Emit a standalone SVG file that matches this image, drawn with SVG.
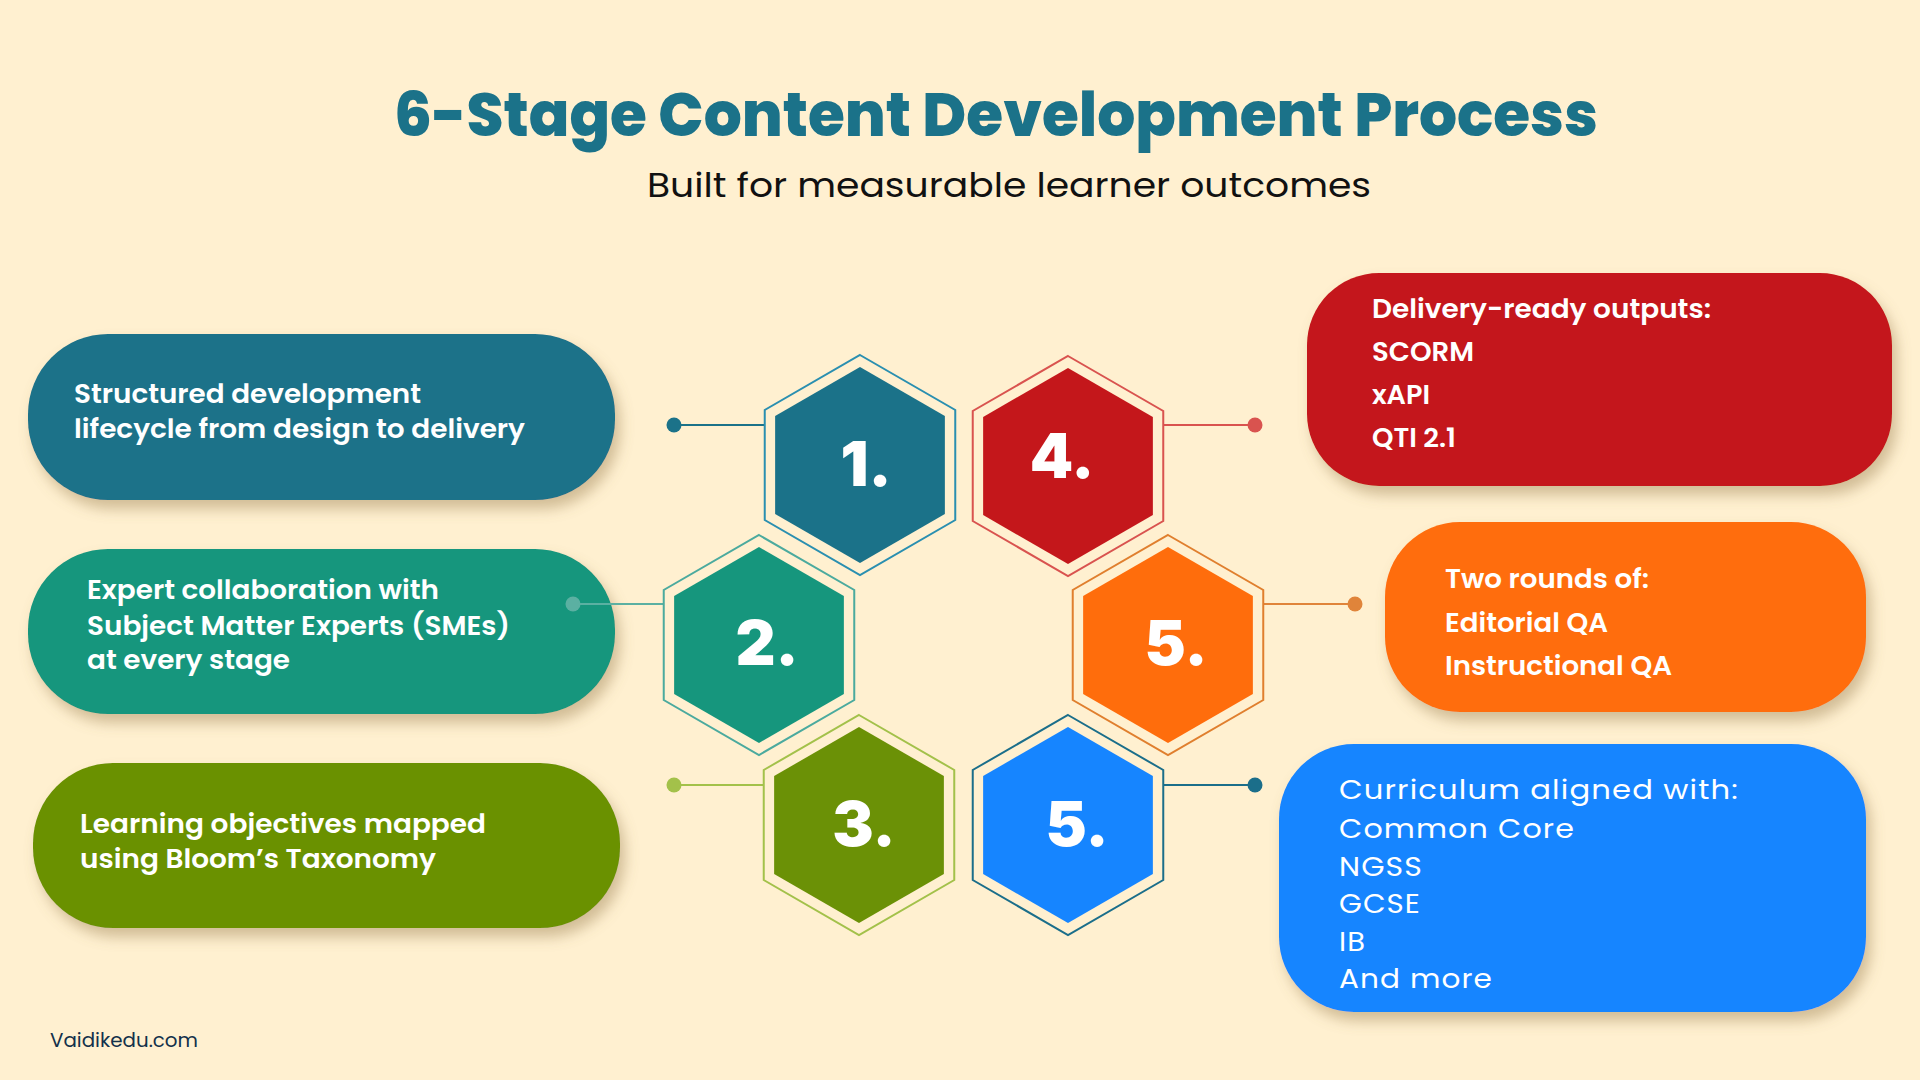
<svg xmlns="http://www.w3.org/2000/svg" xmlns:xlink="http://www.w3.org/1999/xlink" width="1920" height="1080" viewBox="0 0 1920 1080">
<defs>
<filter id="sh" x="-10%" y="-20%" width="125%" height="150%">
<feDropShadow dx="5" dy="9" stdDeviation="7" flood-color="#9a7e4e" flood-opacity="0.45"/>
</filter>
<polygon id="hexOut" points="0,-110 95.26,-55 95.26,55 0,110 -95.26,55 -95.26,-55"/>
<polygon id="hexIn" points="0,-98 84.87,-49 84.87,49 0,98 -84.87,49 -84.87,-49"/>
<style>
.title{font-family:Poppins,Inter,"Liberation Sans",sans-serif;font-weight:800;font-size:62px;fill:#1B7289}
.sub{font-family:Poppins,Inter,"Liberation Sans",sans-serif;font-weight:400;font-size:34px;fill:#111111}
.bt{font-family:Poppins,Inter,"Liberation Sans",sans-serif;font-weight:600;font-size:26px;fill:#ffffff}
.bt2{font-family:Poppins,Inter,"Liberation Sans",sans-serif;font-weight:600;font-size:27px;fill:#ffffff}
.bt3{font-family:Poppins,Inter,"Liberation Sans",sans-serif;font-weight:400;font-size:27px;fill:#ffffff;letter-spacing:1px}
.num{font-family:Inter,Roboto,"Liberation Sans",sans-serif;font-weight:900;font-size:62px;fill:#ffffff;text-anchor:middle}
.ho{fill:none;stroke-width:2}
.conn line{stroke-width:2.2}
.foot{font-family:Poppins,Inter,"Liberation Sans",sans-serif;font-weight:400;font-size:20px;fill:#13314B}
</style>
</defs>
<rect width="1920" height="1080" fill="#FFF0D0"/>

<g id="title">
<text class="title" x="394" y="136" textLength="1204" lengthAdjust="spacingAndGlyphs">6-Stage Content Development Process</text>
<text class="sub" x="647" y="197" textLength="724" lengthAdjust="spacingAndGlyphs">Built for measurable learner outcomes</text>
</g>

<g id="box1">
<rect x="28" y="334" width="587" height="166" rx="80" fill="#1B7289" filter="url(#sh)"/>
<text class="bt" x="74" y="403" textLength="347" lengthAdjust="spacingAndGlyphs">Structured development</text>
<text class="bt" x="74" y="438" textLength="451" lengthAdjust="spacingAndGlyphs">lifecycle from design to delivery</text>
</g>

<g id="box2">
<rect x="28" y="549" width="587" height="165" rx="80" fill="#16967D" filter="url(#sh)"/>
<text class="bt" x="87" y="599" textLength="352" lengthAdjust="spacingAndGlyphs">Expert collaboration with</text>
<text class="bt" x="87" y="635" textLength="423" lengthAdjust="spacingAndGlyphs">Subject Matter Experts (SMEs)</text>
<text class="bt" x="87" y="669" textLength="203" lengthAdjust="spacingAndGlyphs">at every stage</text>
</g>

<g id="box3">
<rect x="33" y="763" width="587" height="165" rx="80" fill="#6B9106" filter="url(#sh)"/>
<text class="bt" x="80" y="833" textLength="406" lengthAdjust="spacingAndGlyphs">Learning objectives mapped</text>
<text class="bt" x="80" y="868" textLength="356" lengthAdjust="spacingAndGlyphs">using Bloom’s Taxonomy</text>
</g>

<g id="box4">
<rect x="1307" y="273" width="585" height="213" rx="72" fill="#C4171B" filter="url(#sh)"/>
<text class="bt2" x="1372" y="318" textLength="339" lengthAdjust="spacingAndGlyphs">Delivery-ready outputs:</text>
<text class="bt2" x="1372" y="361" textLength="102" lengthAdjust="spacingAndGlyphs">SCORM</text>
<text class="bt2" x="1372" y="404" textLength="58" lengthAdjust="spacingAndGlyphs">xAPI</text>
<text class="bt2" x="1372" y="447" textLength="84" lengthAdjust="spacingAndGlyphs">QTI 2.1</text>
</g>

<g id="box5">
<rect x="1385" y="522" width="481" height="190" rx="75" fill="#FF6D0C" filter="url(#sh)"/>
<text class="bt2" x="1445" y="588" textLength="204" lengthAdjust="spacingAndGlyphs">Two rounds of:</text>
<text class="bt2" x="1445" y="632" textLength="163" lengthAdjust="spacingAndGlyphs">Editorial QA</text>
<text class="bt2" x="1445" y="675" textLength="227" lengthAdjust="spacingAndGlyphs">Instructional QA</text>
</g>

<g id="box6">
<rect x="1279" y="744" width="587" height="268" rx="75" fill="#1685FF" filter="url(#sh)"/>
<text class="bt3" x="1339" y="799" textLength="400" lengthAdjust="spacingAndGlyphs">Curriculum aligned with:</text>
<text class="bt3" x="1339" y="838" textLength="236" lengthAdjust="spacingAndGlyphs">Common Core</text>
<text class="bt3" x="1339" y="876" textLength="84" lengthAdjust="spacingAndGlyphs">NGSS</text>
<text class="bt3" x="1339" y="913" textLength="82" lengthAdjust="spacingAndGlyphs">GCSE</text>
<text class="bt3" x="1339" y="951" textLength="27" lengthAdjust="spacingAndGlyphs">IB</text>
<text class="bt3" x="1339" y="988" textLength="154" lengthAdjust="spacingAndGlyphs">And more</text>
</g>

<g id="connectors" class="conn">
<line x1="674" y1="425" x2="765" y2="425" stroke="#1B7289"/>
<circle cx="674" cy="425" r="7.5" fill="#1B7289"/>
<line x1="1163" y1="425" x2="1255" y2="425" stroke="#D9534F"/>
<circle cx="1255" cy="425" r="7.5" fill="#D9534F"/>
<line x1="573" y1="604" x2="664" y2="604" stroke="#5BB0A2"/>
<circle cx="573" cy="604" r="7.5" fill="#5BB0A2"/>
<line x1="1263" y1="604" x2="1355" y2="604" stroke="#E0843A"/>
<circle cx="1355" cy="604" r="7.5" fill="#E0843A"/>
<line x1="674" y1="785" x2="764" y2="785" stroke="#A3C14A"/>
<circle cx="674" cy="785" r="7.5" fill="#A3C14A"/>
<line x1="1163" y1="785" x2="1255" y2="785" stroke="#1B6E8A"/>
<circle cx="1255" cy="785" r="7.5" fill="#1B6E8A"/>
</g>

<g id="hex1" transform="translate(860,465)">
<use href="#hexOut" class="ho" stroke="#2A8FB0"/>
<use href="#hexIn" fill="#1B7289"/>
<text class="num" x="6" y="21">1.</text>
</g>
<g id="hex4" transform="translate(1068,466)">
<use href="#hexOut" class="ho" stroke="#D9534F"/>
<use href="#hexIn" fill="#C4171B"/>
<text class="num" x="-6" y="12">4.</text>
</g>
<g id="hex2" transform="translate(759,645)">
<use href="#hexOut" class="ho" stroke="#4BAA9E"/>
<use href="#hexIn" fill="#16967D"/>
<text class="num" x="8" y="20">2.</text>
</g>
<g id="hex5a" transform="translate(1168,645)">
<use href="#hexOut" class="ho" stroke="#E07F2E"/>
<use href="#hexIn" fill="#FF6D0C"/>
<text class="num" x="8" y="20">5.</text>
</g>
<g id="hex3" transform="translate(859,825)">
<use href="#hexOut" class="ho" stroke="#A3C14A"/>
<use href="#hexIn" fill="#6B9106"/>
<text class="num" x="5" y="21">3.</text>
</g>
<g id="hex5b" transform="translate(1068,825)">
<use href="#hexOut" class="ho" stroke="#1B6E8A"/>
<use href="#hexIn" fill="#1685FF"/>
<text class="num" x="9" y="21">5.</text>
</g>

<g id="footer">
<text class="foot" x="50" y="1047" textLength="148" lengthAdjust="spacingAndGlyphs">Vaidikedu.com</text>
</g>
</svg>
